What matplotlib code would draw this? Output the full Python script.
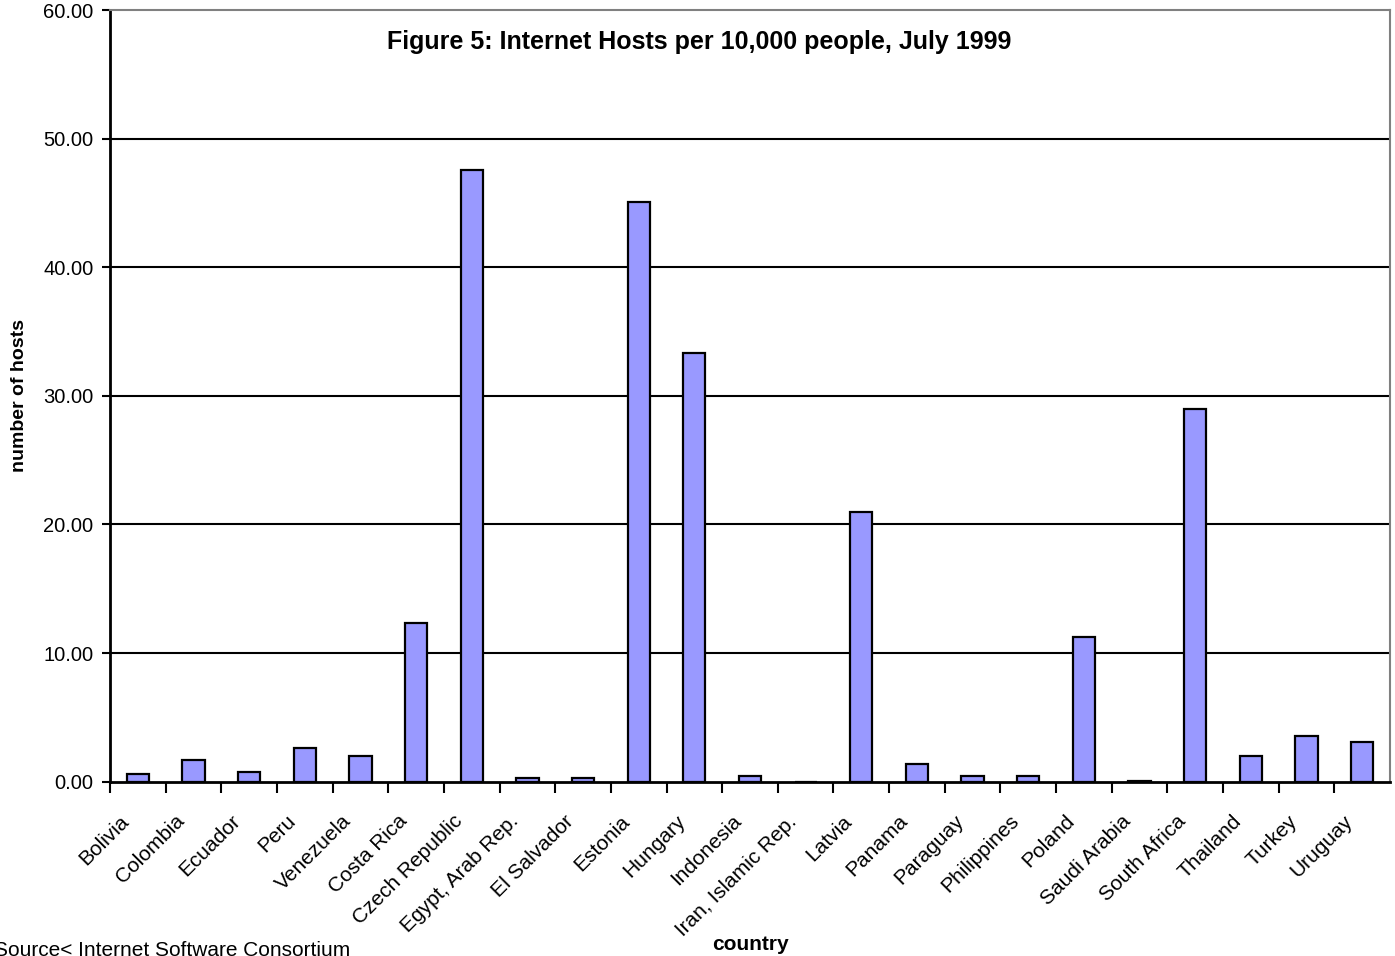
import numpy as np
import matplotlib.pyplot as plt
import matplotlib.transforms as mtransforms

plt.rcParams['font.family'] = ['Liberation Sans', 'DejaVu Sans']

countries = ["Bolivia", "Colombia", "Ecuador", "Peru", "Venezuela", "Costa Rica",
             "Czech Republic", "Egypt, Arab Rep.", "El Salvador", "Estonia", "Hungary",
             "Indonesia", "Iran, Islamic Rep.", "Latvia", "Panama", "Paraguay",
             "Philippines", "Poland", "Saudi Arabia", "South Africa", "Thailand",
             "Turkey", "Uruguay"]
hosts = [0.60, 1.69, 0.72, 2.62, 2.00, 12.33,
         47.55, 0.26, 0.26, 45.08, 33.34,
         0.47, 0.00, 21.00, 1.40, 0.47,
         0.47, 11.24, 0.08, 28.98, 2.00,
         3.55, 3.08]
yticks = [0, 10, 20, 30, 40, 50, 60]

fig = plt.figure(figsize=(13.95, 9.56), dpi=100)
ax = fig.add_axes([110/1395, 1 - 781.7/956, 1280/1395, 771.7/956])

x = np.arange(len(countries))
ax.set_axisbelow(True)
for v in yticks[1:-1]:
    ax.axhline(v, color='black', lw=1.5, zorder=0)
ax.bar(x, hosts, width=0.4, color='#9999FF', edgecolor='black', linewidth=1.6, zorder=2)

ax.set_xlim(-0.5, len(countries) - 0.5)
ax.set_ylim(0, 60)
ax.set_yticks(yticks)
ax.set_yticklabels(["%.2f" % v for v in yticks], fontsize=14.5)
ax.tick_params(axis='y', direction='out', length=6, width=1.5, pad=6)

# category boundary ticks below the axis, names at the bar centres
ax.set_xticks(x - 0.5, minor=False)
ax.set_xticklabels([])
ax.set_xticks(x, minor=True)
ax.set_xticklabels(countries, minor=True, rotation=45, ha='right', va='center',
                   rotation_mode='anchor', fontsize=15)
ax.tick_params(axis='x', which='major', direction='out', length=8, width=1.5)
ax.tick_params(axis='x', which='minor', length=0, pad=22)
shift = mtransforms.ScaledTranslation(-12/100, -6/100, fig.dpi_scale_trans)
for lab in ax.get_xticklabels(minor=True):
    lab.set_transform(lab.get_transform() + shift)

for s in ['left', 'bottom']:
    ax.spines[s].set_linewidth(2)
for s in ['top', 'right']:
    ax.spines[s].set_color('#808080')
    ax.spines[s].set_linewidth(1.5)

ax.text(0.46, 0.958, "Figure 5: Internet Hosts per 10,000 people, July 1999",
        transform=ax.transAxes, ha='center', va='center', fontsize=18, fontweight='bold')

ax.set_ylabel("number of hosts", fontsize=14, fontweight='bold')
ax.yaxis.set_label_coords(-82/1280, 0.5)
fig.text(750/1395, 1 - 945/956, "country", ha='center', va='center',
         fontsize=15, fontweight='bold')
fig.text(-6/1395, 1 - 950/956, "Source< Internet Software Consortium",
         ha='left', va='center', fontsize=15)

fig.savefig("out.png", dpi=100)
